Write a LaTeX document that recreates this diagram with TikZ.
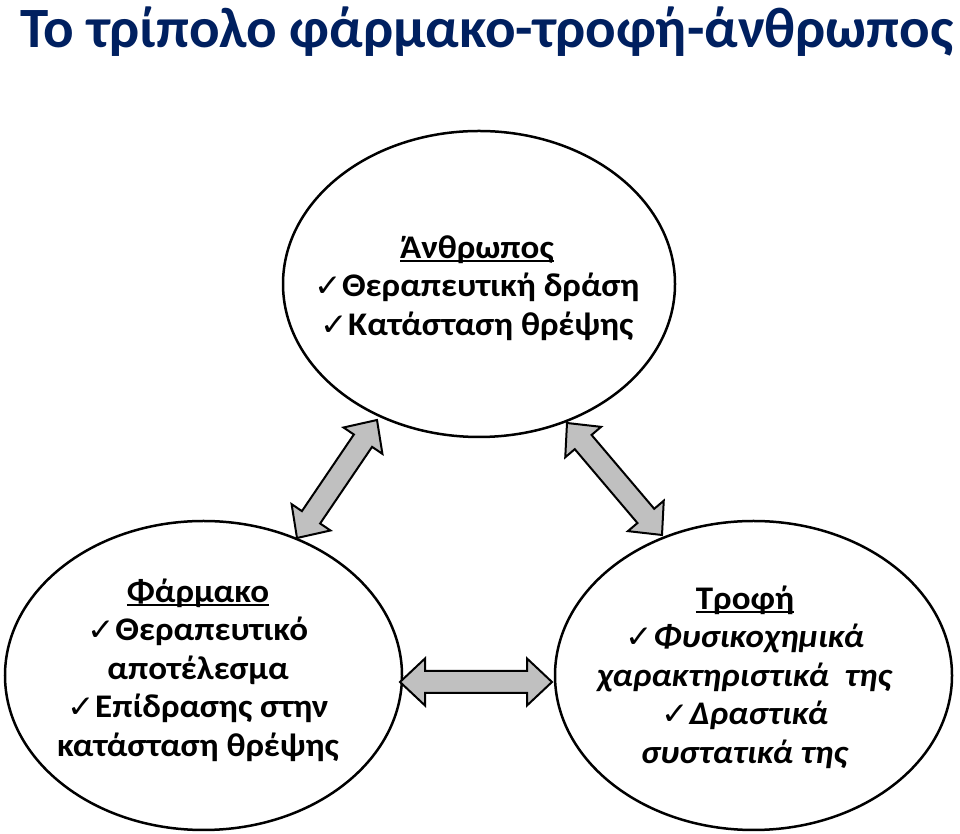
\documentclass[tikz,border=0pt]{standalone}
\usepackage{fontspec}
\setmainfont{Carlito}
\newfontfamily\chkfont{DejaVu Sans}
\usetikzlibrary{shapes.geometric,calc}
\definecolor{titleblue}{RGB}{0,32,96}
\definecolor{arrowgray}{RGB}{192,192,192}
\newcommand{\ck}{{\chkfont\fontsize{31}{31}\selectfont ✓}}
\newcommand{\ulin}[1]{\setbox0=\hbox{#1}\rlap{\rule[-4pt]{\wd0}{2pt}}\box0}
\def\ah{25pt}\def\aw{23.5pt}\def\as{11pt}
\newcommand{\fatarr}[2]{%
  \draw[fatarrow] (#1)
    -- ($(#1)!\ah!(#2)!\aw!90:(#2)$) -- ($(#1)!\ah!(#2)!\as!90:(#2)$)
    -- ($(#2)!\ah!(#1)!\as!-90:(#1)$) -- ($(#2)!\ah!(#1)!\aw!-90:(#1)$)
    -- (#2)
    -- ($(#2)!\ah!(#1)!\aw!90:(#1)$) -- ($(#2)!\ah!(#1)!\as!90:(#1)$)
    -- ($(#1)!\ah!(#2)!\as!-90:(#2)$) -- ($(#1)!\ah!(#2)!\aw!-90:(#2)$)
    -- cycle;}
\begin{document}
\begin{tikzpicture}[x=1pt,y=1pt,
  blob/.style={ellipse, draw=black, line width=2.5pt, fill=white, inner sep=0pt},
  txt/.style={font=\bfseries\fontsize{33}{38.5}\selectfont, align=center, inner sep=0pt,
              xscale=1.06, transform shape},
  fatarrow/.style={draw=black, line width=2pt, fill=arrowgray, line join=miter}]
\useasboundingbox (0,0) rectangle (960,834);
\fill[white] (0,0) rectangle (960,834);
\node[anchor=base, text=titleblue, inner sep=0pt,
      font=\bfseries\fontsize{57}{68}\selectfont] (title) at (487,786)
      {Το τρίπολο φάρμακο-τροφή-άνθρωπος};
\node[blob, minimum width=392pt, minimum height=306pt] (human) at (479,550) {};
\node[blob, minimum width=397pt, minimum height=309pt] (drug) at (203.5,158.5) {};
\node[blob, minimum width=397pt, minimum height=309pt] (food) at (753.5,158.5) {};
\coordinate (a1) at (297,296); \coordinate (b1) at (377,414);
\coordinate (a2) at (567,411); \coordinate (b2) at (662,299);
\coordinate (a3) at (400,152); \coordinate (b3) at (552,152);
\fatarr{a1}{b1}
\fatarr{a2}{b2}
\fatarr{a3}{b3}
\node[txt] (humantxt) at (477,546)
  {\ulin{Άνθρωπος}\\ \ck Θεραπευτική δράση\\ \ck Κατάσταση θρέψης};
\node[txt] (drugtxt) at (198,164)
  {\ulin{Φάρμακο}\\ \ck Θεραπευτικό\\ αποτέλεσμα\\ \ck Επίδρασης στην\\ κατάσταση θρέψης};
\node[txt] (foodtxt) at (745,157)
  {\ulin{Τροφή}\\ \ck\textit{Φυσικοχημικά}\\ \textit{χαρακτηριστικά\ \ της}\\ \ck\textit{Δραστικά}\\ \textit{συστατικά της}};
\end{tikzpicture}
\end{document}
